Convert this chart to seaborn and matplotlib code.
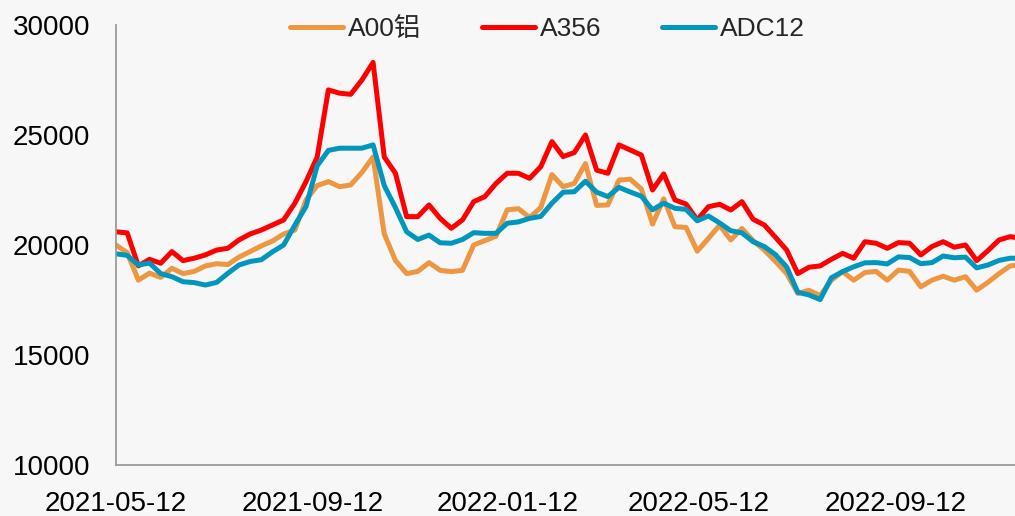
import matplotlib
matplotlib.use("Agg")
import matplotlib.pyplot as plt
import pandas as pd
import seaborn as sns

# ── Dados (leitura semanal do gráfico de referência) ───────────────────────────
DATES = pd.date_range("2021-05-12", periods=82, freq="7D")

A00 = [20000, 19650, 18400, 18720, 18530, 18940, 18700, 18800, 19050, 19150,
       19110, 19450, 19700, 19960, 20180, 20500, 20680, 22050, 22700, 22880,
       22650, 22730, 23300, 24000, 20500, 19300, 18700, 18800, 19200, 18850,
       18790, 18850, 20000, 20200, 20400, 21600, 21650, 21250, 21700, 23200,
       22650, 22800, 23700, 21800, 21820, 22950, 22990, 22550, 20950, 22100,
       20830, 20800, 19720, 20300, 20900, 20230, 20750, 20200, 19770, 19250,
       18700, 17800, 17940, 17700, 18400, 18790, 18400, 18750, 18800, 18400,
       18860, 18800, 18100, 18400, 18580, 18400, 18560, 17950, 18300, 18700,
       19050, 19100]

A356 = [20600, 20550, 19050, 19350, 19170, 19700, 19290, 19400, 19550, 19770,
        19850, 20230, 20500, 20680, 20910, 21140, 21900, 22880, 24000, 27050,
        26900, 26850, 27500, 28300, 24000, 23260, 21290, 21290, 21820, 21210,
        20760, 21140, 21970, 22200, 22800, 23260, 23260, 23030, 23560, 24700,
        24020, 24200, 25000, 23400, 23260, 24550, 24320, 24090, 22500, 23230,
        22050, 21860, 21140, 21740, 21850, 21590, 21970, 21170, 20910, 20350,
        19770, 18700, 18990, 19050, 19350, 19620, 19400, 20150, 20080, 19850,
        20110, 20080, 19550, 19930, 20150, 19900, 20000, 19290, 19740, 20230,
        20380, 20300]

ADC12 = [19600, 19530, 19090, 19180, 18700, 18560, 18330, 18290, 18180, 18300,
         18710, 19090, 19250, 19330, 19690, 20000, 20900, 21750, 23600, 24300,
         24400, 24400, 24400, 24550, 22700, 21700, 20600, 20250, 20450, 20100,
         20080, 20250, 20560, 20530, 20530, 20990, 21050, 21210, 21300, 21900,
         22400, 22420, 22900, 22400, 22200, 22620, 22410, 22220, 21600, 21900,
         21670, 21620, 21100, 21320, 21000, 20650, 20550, 20150, 19930, 19560,
         19000, 17850, 17730, 17520, 18510, 18790, 19010, 19190, 19200, 19140,
         19460, 19430, 19150, 19200, 19500, 19420, 19450, 18960, 19090, 19300,
         19400, 19400]

SERIES = ["A00铝", "A356", "ADC12"]
COLORS = ["#EE9641", "#FF0000", "#0096BE"]
X_TICKS = ["2021-05-12", "2021-09-12", "2022-01-12", "2022-05-12", "2022-09-12"]
Y_TICKS = [10000, 15000, 20000, 25000, 30000]

BG = "#F7F7F7"
AXIS_GREY = "#9A9A9A"

# ── Tabela longa ───────────────────────────────────────────────────────────────
df = pd.concat(
    [pd.DataFrame({"date": DATES, "price": vals, "series": name})
     for name, vals in zip(SERIES, [A00, A356, ADC12])],
    ignore_index=True,
)

# ── Gráfico ────────────────────────────────────────────────────────────────────
sns.set_style("white", {"axes.facecolor": BG, "figure.facecolor": BG})
plt.rcParams["font.family"] = ["Liberation Sans", "Noto Sans CJK SC"]

fig = plt.figure(figsize=(10.15, 5.16), dpi=100, facecolor=BG)
ax = fig.add_axes([116 / 1015, 51 / 516, 899 / 1015, 440 / 516])

sns.lineplot(data=df, x="date", y="price", hue="series", hue_order=SERIES,
             palette=COLORS, linewidth=3.6, ax=ax)

ax.set_xlim(pd.Timestamp("2021-05-12"), pd.Timestamp("2022-11-26"))
ax.set_ylim(10000, 30000)
ax.set_xticks(pd.to_datetime(X_TICKS))
ax.set_xticklabels(X_TICKS)
ax.set_yticks(Y_TICKS)
ax.set_yticklabels([str(v) for v in Y_TICKS])
ax.set_xlabel("")
ax.set_ylabel("")

for side in ["top", "right"]:
    ax.spines[side].set_visible(False)
for side in ["left", "bottom"]:
    ax.spines[side].set_color(AXIS_GREY)
    ax.spines[side].set_linewidth(1.3)

ax.tick_params(axis="both", direction="out", length=6.5, width=1.3,
               color=AXIS_GREY, pad=12, labelsize=20, labelcolor="black")

handles, labels = ax.get_legend_handles_labels()
ax.legend(handles, labels, loc="center", bbox_to_anchor=(0.48, 0.99), ncol=3,
          frameon=False, fontsize=19, handlelength=2.0, handletextpad=0.2,
          columnspacing=2.3)

fig.savefig("out.png", dpi=100, facecolor=BG)
plt.close(fig)
